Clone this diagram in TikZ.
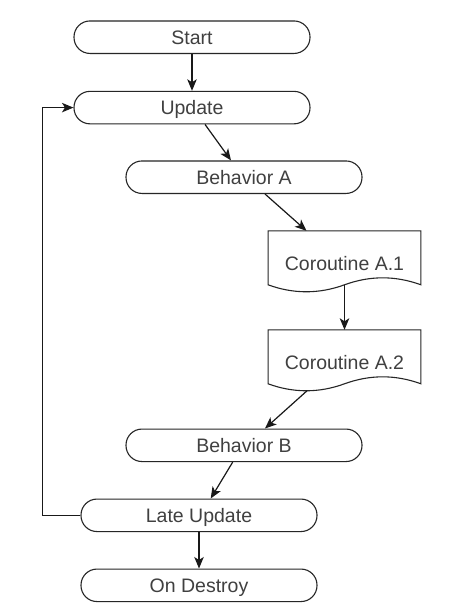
\documentclass[tikz,border=0pt]{standalone}
\usepackage{fontspec}
\setmainfont{Liberation Sans}
\usetikzlibrary{arrows.meta,calc}
\begin{document}
\begin{tikzpicture}[x=1pt,y=-1pt,
  every node/.style={font=\fontsize{19.5}{22}\selectfont, text=black!75, text height=14pt, text depth=0pt},
  term/.style={draw=black!85, line width=1.1pt, rectangle, rounded corners=16pt, minimum width=236pt, minimum height=32.5pt, inner sep=0pt},
  docnode/.style={rectangle, minimum width=152.4pt, minimum height=65.5pt, inner sep=0pt},
  docline/.style={draw=black!85, line width=1.1pt},
  conn/.style={draw=black!90, line width=1.2pt, -{Stealth[length=11.5pt,width=9.5pt,inset=3pt]}}]
\useasboundingbox (0,0) rectangle (450,616);
\fill[white] (0,0) rectangle (450,616);

\node[term] (start) at (192,37.2) {Start};
\node[term] (up) at (192,107.6) {Update};
\node[term] (ba) at (244,177.2) {Behavior A};
\node[docnode] (c1) at (344.5,263.75) {Coroutine A.1};
\node[docnode] (c2) at (344.5,362.75) {Coroutine A.2};
\node[term] (bb) at (244,445.3) {Behavior B};
\node[term] (lu) at (199,515.3) {Late Update};
\node[term] (od) at (199,585.3) {On Destroy};

\foreach \d in {c1,c2}{
  \draw[docline] (\d.north west) -- (\d.north east) -- ($(\d.north east)+(0,54)$)
    .. controls ($(\d.north east)+(-25.4,44.7)$) and ($(\d.north)+(25.4,44.7)$) .. ($(\d.north)+(0,54)$)
    .. controls ($(\d.north)+(-25.4,63.3)$) and ($(\d.north west)+(25.4,63.3)$) .. ($(\d.north west)+(0,54)$)
    -- cycle;
}

\draw[conn] (start.south) -- (up.north);
\draw[conn] ($(up.south)+(13,0)$) -- ($(ba.north)+(-13,0)$);
\draw[conn] ($(ba.south)+(21,0)$) -- ($(c1.north)+(-38,0)$);
\draw[conn] ($(c1.north)+(0,54.5)$) -- (c2.north);
\draw[conn] ($(c2.north)+(-37.5,61)$) -- ($(bb.north)+(21,0)$);
\draw[conn] ($(bb.south)+(-11.3,0)$) -- ($(lu.north)+(11.7,0)$);
\draw[conn] (lu.south) -- (od.north);
\draw[conn] (lu.west) -- ++(-38,0) |- (up.west);
\end{tikzpicture}
\end{document}
